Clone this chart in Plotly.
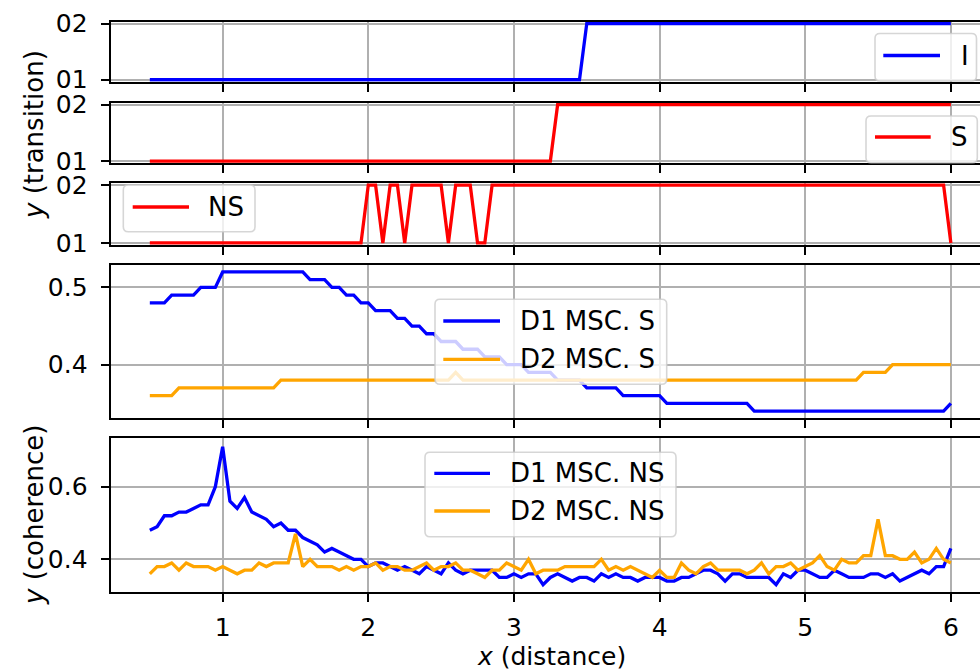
import numpy as np
import plotly.graph_objects as go

# ---- data -------------------------------------------------------------
x = np.round(np.linspace(0.5, 6.0, 111), 2)

trans_I = (
    ["01"] * 10 + ["01"] * 10 + ["01"] * 10 + ["01"] * 10 + ["01"] * 10 +
    ["01"] * 10 +
    ["02"] * 10 + ["02"] * 10 + ["02"] * 10 + ["02"] * 10 + ["02"] * 10 +
    ["02"]
)
trans_S = (
    ["01"] * 10 + ["01"] * 10 + ["01"] * 10 + ["01"] * 10 + ["01"] * 10 +
    ["01", "01", "01", "01", "01", "01", "02", "02", "02", "02"] +
    ["02"] * 10 + ["02"] * 10 + ["02"] * 10 + ["02"] * 10 + ["02"] * 10 +
    ["02"]
)
trans_NS = (
    ["01"] * 10 + ["01"] * 10 + ["01"] * 10 +
    ["02", "02", "01", "02", "02", "01", "02", "02", "02", "02"] +
    ["02", "01", "02", "02", "02", "01", "01", "02", "02", "02"] +
    ["02"] * 10 + ["02"] * 10 + ["02"] * 10 + ["02"] * 10 + ["02"] * 10 +
    ["02"] * 10 +
    ["01"]
)

d1_msc_s = [
    0.48, 0.48, 0.48, 0.49, 0.49, 0.49, 0.49, 0.50, 0.50, 0.50,
    0.52, 0.52, 0.52, 0.52, 0.52, 0.52, 0.52, 0.52, 0.52, 0.52,
    0.52, 0.52, 0.51, 0.51, 0.51, 0.50, 0.50, 0.49, 0.49, 0.48,
    0.48, 0.47, 0.47, 0.47, 0.46, 0.46, 0.45, 0.45, 0.44, 0.44,
    0.43, 0.43, 0.43, 0.42, 0.42, 0.42, 0.41, 0.41, 0.41, 0.40,
    0.40, 0.40, 0.39, 0.39, 0.39, 0.39, 0.38, 0.38, 0.38, 0.38,
    0.37, 0.37, 0.37, 0.37, 0.37, 0.36, 0.36, 0.36, 0.36, 0.36,
    0.36, 0.35, 0.35, 0.35, 0.35, 0.35, 0.35, 0.35, 0.35, 0.35,
    0.35, 0.35, 0.35, 0.34, 0.34, 0.34, 0.34, 0.34, 0.34, 0.34,
    0.34, 0.34, 0.34, 0.34, 0.34, 0.34, 0.34, 0.34, 0.34, 0.34,
    0.34, 0.34, 0.34, 0.34, 0.34, 0.34, 0.34, 0.34, 0.34, 0.34,
    0.35,
]
d2_msc_s = [
    0.36, 0.36, 0.36, 0.36, 0.37, 0.37, 0.37, 0.37, 0.37, 0.37,
    0.37, 0.37, 0.37, 0.37, 0.37, 0.37, 0.37, 0.37, 0.38, 0.38,
    0.38, 0.38, 0.38, 0.38, 0.38, 0.38, 0.38, 0.38, 0.38, 0.38,
    0.38, 0.38, 0.38, 0.38, 0.38, 0.38, 0.38, 0.38, 0.38, 0.38,
    0.38, 0.38, 0.39, 0.38, 0.38, 0.38, 0.38, 0.38, 0.38, 0.38,
    0.38, 0.38, 0.38, 0.38, 0.38, 0.38, 0.38, 0.38, 0.38, 0.38,
    0.38, 0.38, 0.38, 0.38, 0.38, 0.38, 0.38, 0.38, 0.38, 0.38,
    0.38, 0.38, 0.38, 0.38, 0.38, 0.38, 0.38, 0.38, 0.38, 0.38,
    0.38, 0.38, 0.38, 0.38, 0.38, 0.38, 0.38, 0.38, 0.38, 0.38,
    0.38, 0.38, 0.38, 0.38, 0.38, 0.38, 0.38, 0.38, 0.39, 0.39,
    0.39, 0.39, 0.40, 0.40, 0.40, 0.40, 0.40, 0.40, 0.40, 0.40,
    0.40,
]
d1_msc_ns = [
    0.48, 0.49, 0.52, 0.52, 0.53, 0.53, 0.54, 0.55, 0.55, 0.60,
    0.71, 0.56, 0.54, 0.57, 0.53, 0.52, 0.51, 0.49, 0.50, 0.48,
    0.48, 0.46, 0.45, 0.44, 0.42, 0.43, 0.42, 0.41, 0.40, 0.40,
    0.38, 0.39, 0.39, 0.38, 0.37, 0.38, 0.37, 0.36, 0.38, 0.37,
    0.36, 0.39, 0.37, 0.36, 0.37, 0.37, 0.37, 0.37, 0.35, 0.35,
    0.36, 0.35, 0.36, 0.36, 0.33, 0.35, 0.36, 0.35, 0.34, 0.35,
    0.35, 0.34, 0.36, 0.35, 0.36, 0.35, 0.35, 0.34, 0.35, 0.35,
    0.35, 0.34, 0.34, 0.35, 0.35, 0.36, 0.37, 0.37, 0.36, 0.34,
    0.36, 0.36, 0.35, 0.35, 0.35, 0.35, 0.33, 0.36, 0.35, 0.37,
    0.37, 0.36, 0.35, 0.35, 0.37, 0.36, 0.35, 0.35, 0.35, 0.36,
    0.36, 0.35, 0.36, 0.34, 0.35, 0.36, 0.37, 0.36, 0.38, 0.38,
    0.43,
]
d2_msc_ns = [
    0.36, 0.38, 0.38, 0.39, 0.37, 0.39, 0.38, 0.38, 0.38, 0.37,
    0.38, 0.37, 0.36, 0.37, 0.37, 0.39, 0.38, 0.39, 0.39, 0.39,
    0.47, 0.38, 0.40, 0.38, 0.38, 0.38, 0.37, 0.38, 0.37, 0.38,
    0.38, 0.39, 0.37, 0.38, 0.38, 0.37, 0.37, 0.38, 0.39, 0.37,
    0.38, 0.38, 0.39, 0.37, 0.37, 0.36, 0.35, 0.37, 0.37, 0.39,
    0.38, 0.37, 0.40, 0.36, 0.37, 0.37, 0.37, 0.38, 0.38, 0.38,
    0.38, 0.38, 0.40, 0.37, 0.38, 0.37, 0.38, 0.37, 0.36, 0.35,
    0.37, 0.35, 0.35, 0.39, 0.37, 0.36, 0.38, 0.39, 0.37, 0.37,
    0.37, 0.37, 0.36, 0.37, 0.39, 0.36, 0.38, 0.38, 0.39, 0.37,
    0.38, 0.39, 0.41, 0.38, 0.37, 0.40, 0.39, 0.39, 0.41, 0.41,
    0.51, 0.41, 0.41, 0.40, 0.40, 0.42, 0.39, 0.40, 0.43, 0.40,
    0.39,
]

x_ticks = [1, 2, 3, 4, 5, 6]
trans_levels = ["01", "02"]

# ---- styling ----------------------------------------------------------
W, H = 980, 670
FONT = "DejaVu Sans"
BLUE, RED, ORANGE = "#0000ff", "#ff0000", "#ffa500"
GRID = "#b0b0b0"
LW = 3.3


def px(v):
    return v / W


def py(v):
    return 1 - v / H


# panel extents in pixels (top, bottom)
panels = [(21.7, 81.7), (102.7, 163.0), (183.0, 245.0), (265.0, 418.0), (438.0, 592.0)]
x_left = 110.5

fig = go.Figure()

series = [
    (trans_I, "I", BLUE, 1),
    (trans_S, "S", RED, 2),
    (trans_NS, "NS", RED, 3),
    (d1_msc_s, "D1 MSC. S", BLUE, 4),
    (d2_msc_s, "D2 MSC. S", ORANGE, 4),
    (d1_msc_ns, "D1 MSC. NS", BLUE, 5),
    (d2_msc_ns, "D2 MSC. NS", ORANGE, 5),
]
for ys, name, color, k in series:
    suffix = "" if k == 1 else str(k)
    fig.add_trace(go.Scatter(
        x=x, y=ys, name=name, mode="lines",
        line=dict(color=color, width=LW),
        xaxis="x" + suffix, yaxis="y" + suffix, showlegend=False,
    ))

axis_common = dict(
    showgrid=True, gridcolor=GRID, gridwidth=1.6,
    showline=True, linecolor="black", linewidth=1.8,
    ticks="outside", ticklen=8, tickwidth=1.8, tickcolor="black",
    zeroline=False, automargin=False,
    tickfont=dict(family=FONT, size=25, color="black"),
)

layout = dict(
    width=W, height=H,
    margin=dict(l=0, r=0, t=0, b=0, autoexpand=False),
    paper_bgcolor="white", plot_bgcolor="white",
    font=dict(family=FONT, color="black"),
    showlegend=False,
)

y_ranges = {
    1: dict(type="category", categoryorder="array", categoryarray=trans_levels,
            range=[-0.035, 1.035], tickvals=trans_levels),
    2: dict(type="category", categoryorder="array", categoryarray=trans_levels,
            range=[-0.035, 1.035], tickvals=trans_levels),
    3: dict(type="category", categoryorder="array", categoryarray=trans_levels,
            range=[-0.035, 1.035], tickvals=trans_levels),
    4: dict(range=[0.331, 0.529], tickvals=[0.4, 0.5], ticktext=["0.4", "0.5"]),
    5: dict(range=[0.310, 0.734], tickvals=[0.4, 0.6], ticktext=["0.4", "0.6"]),
}

for k in range(1, 6):
    suffix = "" if k == 1 else str(k)
    top, bot = panels[k - 1]
    xa = dict(axis_common)
    xa.update(
        domain=[px(x_left), 1.0], range=[0.23, 6.2], tickvals=x_ticks,
        mirror=True, anchor="y" + suffix,
        showticklabels=(k == 5), ticklabelstandoff=4,
    )
    if k > 1:
        xa["matches"] = "x"
    ya = dict(axis_common)
    ya.update(domain=[py(bot), py(top)], anchor="x" + suffix,
              ticklabelstandoff=8)
    ya.update(y_ranges[k])
    layout["xaxis" + suffix] = xa
    layout["yaxis" + suffix] = ya

fig.update_layout(**layout)

# ---- legends (framed boxes drawn over the plot) -------------------------
legends = [
    dict(box=(875.0, 33.5, 976.5, 81.0), line=(883.3, 940.0), tx=958.5,
         items=[("I", BLUE, 55.5)]),
    dict(box=(866.0, 116.0, 977.3, 162.7), line=(875.0, 930.7), tx=949.0,
         items=[("S", RED, 137.0)]),
    dict(box=(123.3, 185.0, 255.0, 231.7), line=(132.7, 189.0), tx=206.0,
         items=[("NS", RED, 207.0)]),
    dict(box=(435.0, 299.3, 666.7, 384.3), line=(443.3, 500.0), tx=517.5,
         items=[("D1 MSC. S", BLUE, 321.0), ("D2 MSC. S", ORANGE, 359.3)]),
    dict(box=(425.0, 452.3, 676.0, 536.7), line=(434.3, 490.0), tx=508.0,
         items=[("D1 MSC. NS", BLUE, 473.3), ("D2 MSC. NS", ORANGE, 511.0)]),
]


def rounded_path(x0, y0, x1, y1, r=5.0):
    def p(a, b):
        return f"{px(a):.5f},{py(b):.5f}"
    return (
        f"M {p(x0 + r, y0)} L {p(x1 - r, y0)} Q {p(x1, y0)} {p(x1, y0 + r)} "
        f"L {p(x1, y1 - r)} Q {p(x1, y1)} {p(x1 - r, y1)} "
        f"L {p(x0 + r, y1)} Q {p(x0, y1)} {p(x0, y1 - r)} "
        f"L {p(x0, y0 + r)} Q {p(x0, y0)} {p(x0 + r, y0)} Z"
    )


shapes, annotations = [], []
for lg in legends:
    x0, y0, x1, y1 = lg["box"]
    shapes.append(dict(
        type="path", path=rounded_path(x0, y0, x1, y1), xref="paper", yref="paper",
        fillcolor="rgba(255,255,255,0.8)", line=dict(color="rgba(204,204,204,0.8)", width=1.6),
        layer="above",
    ))
    lx0, lx1 = lg["line"]
    for label, color, yc in lg["items"]:
        shapes.append(dict(
            type="line", xref="paper", yref="paper",
            x0=px(lx0), x1=px(lx1), y0=py(yc), y1=py(yc),
            line=dict(color=color, width=LW), layer="above",
        ))
        annotations.append(dict(
            text=label, xref="paper", yref="paper", x=px(lg["tx"]), y=py(yc),
            xanchor="left", yanchor="middle", showarrow=False,
            font=dict(family=FONT, size=26, color="black"),
        ))

# axis titles
annotations += [
    dict(text="<i>y</i> (transition)", xref="paper", yref="paper",
         x=px(34), y=py(135), textangle=-90, showarrow=False,
         xanchor="center", yanchor="middle",
         font=dict(family=FONT, size=26, color="black")),
    dict(text="<i>y</i> (coherence)", xref="paper", yref="paper",
         x=px(34), y=py(515), textangle=-90, showarrow=False,
         xanchor="center", yanchor="middle",
         font=dict(family=FONT, size=26, color="black")),
    dict(text="<i>x</i> (distance)", xref="paper", yref="paper",
         x=px(551), y=py(656), showarrow=False,
         xanchor="center", yanchor="middle",
         font=dict(family=FONT, size=25, color="black")),
]

fig.update_layout(shapes=shapes, annotations=annotations)
fig.write_html("out.html")
